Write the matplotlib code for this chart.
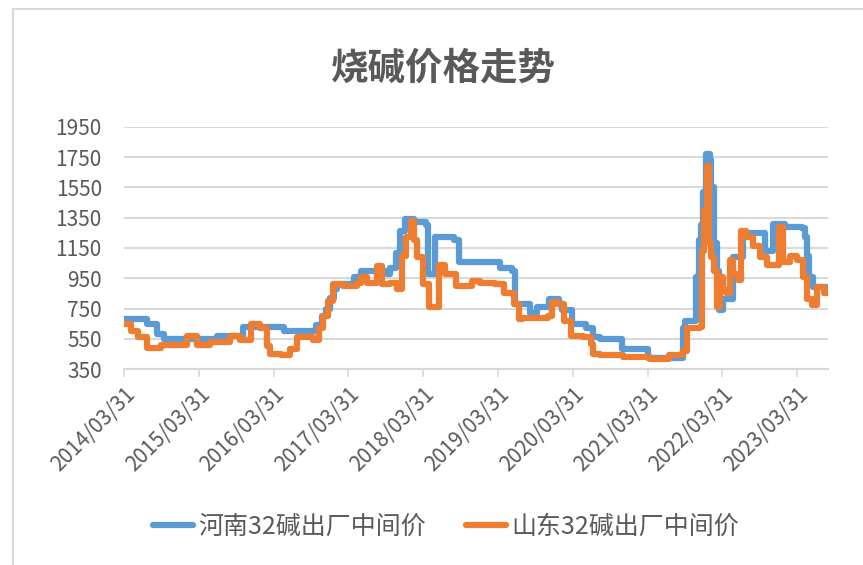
import matplotlib
matplotlib.use("Agg")
import matplotlib.pyplot as plt
from matplotlib.patches import Rectangle

plt.rcParams['font.family'] = ['Noto Sans CJK SC', 'DejaVu Sans']

# time in decimal years (2014.25 ~ 2014/03/31)
henan_t = [2014.25, 2014.56, 2014.69, 2014.78, 2015.49, 2015.84, 2016.38, 2016.82, 2016.90,
           2016.95, 2017.00, 2017.05, 2017.10, 2017.32, 2017.41, 2017.76, 2017.81, 2017.88,
           2017.94, 2018.00, 2018.12, 2018.28, 2018.31, 2018.41, 2018.66, 2018.72, 2019.24,
           2019.28, 2019.44, 2019.48, 2019.68, 2019.77, 2019.93, 2020.06, 2020.11, 2020.24,
           2020.43, 2020.52, 2020.61, 2020.90, 2021.25, 2021.72, 2021.75, 2021.90, 2021.94,
           2021.96, 2021.99, 2022.03, 2022.08, 2022.10, 2022.13, 2022.17, 2022.20, 2022.26,
           2022.39, 2022.53, 2022.82, 2022.93, 2023.08, 2023.31, 2023.35, 2023.38, 2023.40,
           2023.46, 2023.66]
henan = [680, 650, 580, 550, 570, 630, 600, 640, 700,
         750, 820, 880, 910, 960, 1000, 980, 1020, 1120,
         1260, 1340, 1320, 1300, 980, 1220, 1200, 1060, 1060,
         1020, 1000, 780, 720, 760, 810, 780, 740, 650,
         620, 560, 550, 480, 420, 620, 670, 960, 1200,
         1300, 1520, 1770, 1730, 1550, 1180, 1000, 740, 810,
         1090, 1250, 1130, 1310, 1290, 1280, 1220, 1100, 960,
         890, 880]

shandong_t = [2014.25, 2014.34, 2014.43, 2014.56, 2014.74, 2015.09, 2015.22, 2015.40, 2015.67,
              2015.80, 2015.94, 2016.07, 2016.16, 2016.20, 2016.34, 2016.47, 2016.56, 2016.78,
              2016.85, 2016.91, 2016.98, 2017.04, 2017.17, 2017.36, 2017.41, 2017.50, 2017.63,
              2017.70, 2017.81, 2017.90, 2017.96, 2018.02, 2018.08, 2018.12, 2018.17, 2018.25,
              2018.32, 2018.39, 2018.46, 2018.54, 2018.68, 2018.90, 2019.01, 2019.21, 2019.33,
              2019.46, 2019.53, 2019.57, 2019.91, 2019.97, 2020.04, 2020.13, 2020.22, 2020.38,
              2020.49, 2020.52, 2020.61, 2020.92, 2021.28, 2021.54, 2021.72, 2021.77, 2021.95,
              2021.97, 2022.00, 2022.04, 2022.07, 2022.10, 2022.13, 2022.17, 2022.21, 2022.26,
              2022.30, 2022.35, 2022.39, 2022.46, 2022.50, 2022.57, 2022.66, 2022.75, 2022.84,
              2022.96, 2023.00, 2023.06, 2023.15, 2023.24, 2023.33, 2023.38, 2023.44, 2023.51,
              2023.60, 2023.66]
shandong = [650, 600, 560, 490, 510, 570, 510, 530, 570,
            540, 650, 620, 500, 450, 440, 480, 560, 540,
            620, 700, 800, 910, 900, 920, 960, 920, 1030,
            910, 920, 880, 1100, 1220, 1330, 1200, 1090, 910,
            760, 760, 1040, 980, 900, 930, 920, 910, 850,
            780, 680, 690, 700, 790, 780, 670, 570, 560,
            515, 450, 440, 430, 415, 440, 470, 620, 630,
            1130, 1400, 1690, 1180, 1090, 1000, 760, 960, 870,
            850, 1070, 980, 940, 1260, 1220, 1160, 1090, 1040,
            1040, 1290, 1060, 1100, 1070, 960, 810, 770, 890,
            850, 850]

tick_years = [2014, 2015, 2016, 2017, 2018, 2019, 2020, 2021, 2022, 2023]
tick_labels = [f"{y}/03/31" for y in tick_years]
y_ticks = [350, 550, 750, 950, 1150, 1350, 1550, 1750, 1950]

grey = '#595959'
grid = '#D9D9D9'

fig = plt.figure(figsize=(8.63, 5.65), dpi=100)
ax = fig.add_axes([124 / 863, 1 - 369 / 565, (828 - 124) / 863, (369 - 127) / 565])

ax.plot(henan_t, henan, color='#5B9BD5', lw=4.5, drawstyle='steps-post',
        solid_capstyle='round', solid_joinstyle='round', label='河南32碱出厂中间价')
ax.plot(shandong_t, shandong, color='#ED7D31', lw=4.5, drawstyle='steps-post',
        solid_capstyle='round', solid_joinstyle='round', label='山东32碱出厂中间价')

ax.set_xlim(2014.247, 2023.66)
ax.set_ylim(350, 1950)
ax.set_yticks(y_ticks)
ax.set_xticks([y + 0.247 for y in tick_years])
ax.set_xticklabels(tick_labels, rotation=45, ha='right', rotation_mode='anchor')
ax.tick_params(axis='y', length=0, pad=16, labelsize=15, labelcolor=grey)
ax.tick_params(axis='x', length=6, color=grid, width=1.2, pad=4, labelsize=15, labelcolor=grey)
ax.grid(axis='y', color=grid, lw=1.5)
ax.set_axisbelow(True)
for s in ['left', 'right', 'top']:
    ax.spines[s].set_visible(False)
ax.spines['bottom'].set_color(grid)
ax.spines['bottom'].set_linewidth(1.5)

fig.text(443 / 863, 1 - 68 / 565, '烧碱价格走势', ha='center', va='center',
         fontsize=27, fontweight='bold', color=grey)

fig.legend(loc='center', bbox_to_anchor=(446 / 863, 1 - 527 / 565), ncol=2, frameon=False,
           fontsize=18, labelcolor=grey, handlelength=1.6, columnspacing=1.6, handletextpad=0.2)

fig.add_artist(Rectangle((13 / 863, -0.1), 1.0, 1 - 9 / 565 + 0.1, transform=fig.transFigure,
                         fill=False, edgecolor=grid, lw=1.5))

fig.savefig('out.png', dpi=100)
